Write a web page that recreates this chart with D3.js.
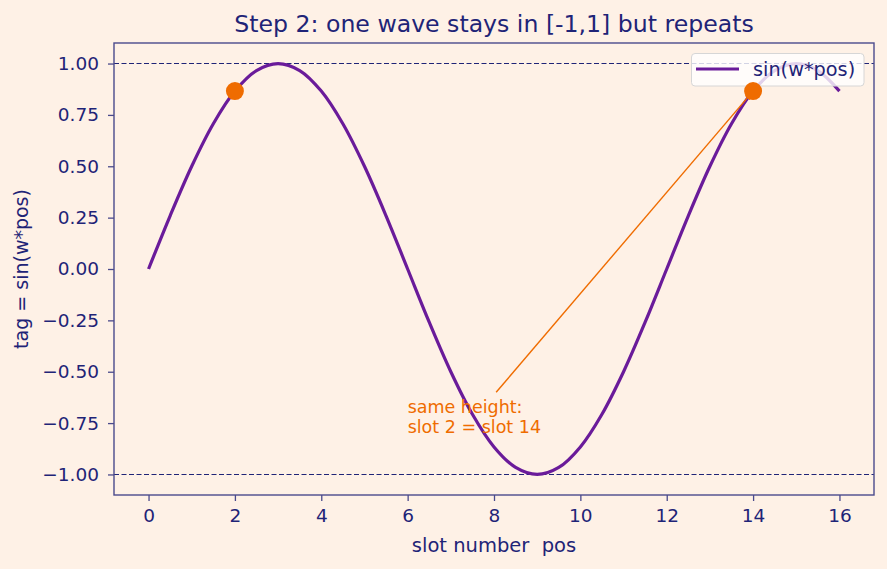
<!DOCTYPE html>
<html><head><meta charset="utf-8">
<script src="https://cdn.jsdelivr.net/npm/d3@7"></script>
<style>
html,body{margin:0;padding:0;background:#fef1e6;}
svg{display:block;font-family:"DejaVu Sans",sans-serif;}
</style></head>
<body>
<script>
const positions = [0,0.5,1,1.5,2,2.5,3,3.5,4,4.5,5,5.5,6,6.5,7,7.5,8,8.5,9,9.5,10,10.5,11,11.5,12,12.5,13,13.5,14,14.5,15,15.5,16];
const tagValues = [0,0.259,0.5,0.707,0.866,0.966,1,0.966,0.866,0.707,0.5,0.259,0,-0.259,-0.5,-0.707,-0.866,-0.966,-1,-0.966,-0.866,-0.707,-0.5,-0.259,0,0.259,0.5,0.707,0.866,0.966,1,0.966,0.866];
const highlightPos = [2,14];
const highlightVal = [0.866,0.866];
const refLines = [1,-1];
const xTicks = [0,2,4,6,8,10,12,14,16];
const yTicks = [1,0.75,0.5,0.25,0,-0.25,-0.5,-0.75,-1];
const annotationLines = ["same height:","slot 2 = slot 14"];
const annotationText = [6,-0.8];
const annotationTail = [8.05,-0.6];

const W=887,H=569;
const m={l:114,r:874,t:43,b:495};
const navy="#1f2477", spine="#4a4a8c", purple="#6a1b9a", orange="#ef6c00";
const svg=d3.select("body").append("svg").attr("width",W).attr("height",H);
svg.append("rect").attr("width",W).attr("height",H).attr("fill","#fef1e6");

const x=d3.scaleLinear().domain([-0.8,16.8]).range([m.l,m.r]);
const y=d3.scaleLinear().domain([-1.1,1.1]).range([m.b,m.t]);

// ref lines
svg.selectAll(".ref").data(refLines).enter().append("line")
 .attr("x1",m.l).attr("x2",m.r).attr("y1",d=>y(d)).attr("y2",d=>y(d))
 .attr("stroke",navy).attr("stroke-width",1.1).attr("stroke-dasharray","5,2.5");

// curve
const data=positions.map((p,i)=>[p,tagValues[i]]);
svg.append("path").datum(data)
 .attr("d",d3.line().x(d=>x(d[0])).y(d=>y(d[1])).curve(d3.curveCatmullRom.alpha(0.5)))
 .attr("fill","none").attr("stroke",purple).attr("stroke-width",3.2);

// annotation arrow
const defs=svg.append("defs");
defs.append("marker").attr("id","ah").attr("viewBox","0 0 10 10").attr("refX",10).attr("refY",5)
 .attr("markerWidth",8).attr("markerHeight",7).attr("markerUnits","userSpaceOnUse").attr("orient","auto")
 .append("path").attr("d","M0,0 L10,5 L0,10 z").attr("fill",orange);
const hx=x(highlightPos[1]), hy=y(highlightVal[1]);
const tx=x(annotationTail[0]), ty=y(annotationTail[1]);
const ang=Math.atan2(hy-ty,hx-tx);
svg.append("line").attr("x1",tx).attr("y1",ty)
 .attr("x2",hx-2*Math.cos(ang)).attr("y2",hy-2*Math.sin(ang))
 .attr("stroke",orange).attr("stroke-width",1.4).attr("marker-end","url(#ah)");

const at=svg.append("text").attr("x",x(annotationText[0])).attr("y",y(annotationText[1]))
 .attr("fill",orange).attr("font-size",17.5);
annotationLines.forEach((s,i)=>{
  at.append("tspan").attr("x",x(annotationText[0])).attr("dy",i===0?-(annotationLines.length-1)*20:20).text(s);
});

// legend
const lg=svg.append("g");
lg.append("rect").attr("x",691.5).attr("y",53.5).attr("width",172.5).attr("height",32.5).attr("rx",3.5)
 .attr("fill","#ffffff").attr("fill-opacity",0.8).attr("stroke","#d6d6d6").attr("stroke-width",1);
lg.append("line").attr("x1",696).attr("x2",739).attr("y1",69).attr("y2",69).attr("stroke",purple).attr("stroke-width",3.2);
lg.append("text").attr("x",753).attr("y",75.5).attr("fill",navy).attr("font-size",19.3).text("sin(w*pos)");

// markers
svg.selectAll(".pt").data(highlightPos).enter().append("circle")
 .attr("cx",d=>x(d)).attr("cy",(d,i)=>y(highlightVal[i])).attr("r",9).attr("fill",orange);

// axes
const xa=svg.append("g").attr("transform",`translate(0,${m.b})`)
 .call(d3.axisBottom(x).tickValues(xTicks).tickFormat(d3.format("d")).tickSize(6).tickPadding(8));
const ya=svg.append("g").attr("transform",`translate(${m.l},0)`)
 .call(d3.axisLeft(y).tickValues(yTicks).tickFormat(d=>d3.format(".2f")(d).replace("-","\u2212")).tickSize(6).tickPadding(9));
[xa,ya].forEach(a=>{
  a.select(".domain").remove();
  a.selectAll(".tick line").attr("stroke",spine).attr("stroke-width",1.3);
  a.selectAll(".tick text").attr("fill",navy).attr("font-size",18.5).attr("font-family","DejaVu Sans, sans-serif");
});
svg.append("rect").attr("x",m.l).attr("y",m.t).attr("width",m.r-m.l).attr("height",m.b-m.t)
 .attr("fill","none").attr("stroke",spine).attr("stroke-width",1.4);

// labels
svg.append("text").attr("x",(m.l+m.r)/2).attr("y",32).attr("text-anchor","middle")
 .attr("fill",navy).attr("font-size",23.6).text("Step 2: one wave stays in [-1,1] but repeats");
svg.append("text").attr("x",(m.l+m.r)/2).attr("y",552).attr("text-anchor","middle")
 .style("white-space","pre").attr("xml:space","preserve")
 .attr("fill",navy).attr("font-size",19.5).text("slot number  pos");
svg.append("text").attr("transform",`translate(28,${(m.t+m.b)/2}) rotate(-90)`).attr("text-anchor","middle")
 .attr("fill",navy).attr("font-size",19).text("tag = sin(w*pos)");
</script>
</body></html>
